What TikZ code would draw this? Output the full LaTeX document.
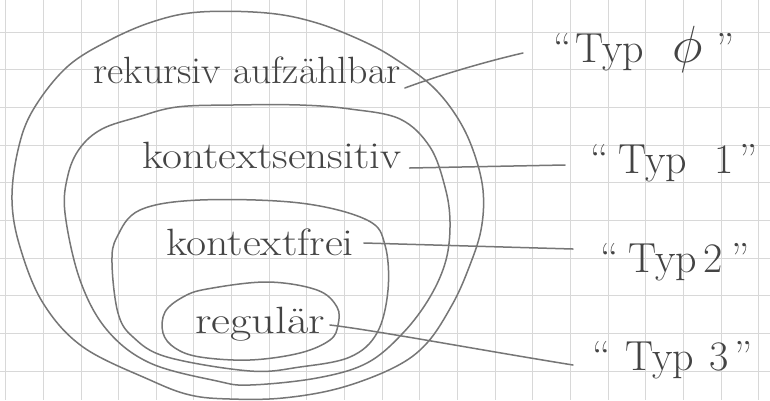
\documentclass[tikz,border=0pt]{standalone}
\usetikzlibrary{calc}
\definecolor{pencil}{HTML}{767676}
\definecolor{ink}{HTML}{444444}
\definecolor{gridc}{HTML}{D8D8D8}
\begin{document}
\begin{tikzpicture}[x=1pt,y=-1pt,
  pencilline/.style={draw=pencil,line width=1.5pt,line cap=round,line join=round},
  setbox/.style={pencilline,smooth cycle,tension=0.6},
  cls/.style={text=ink,font=\fontsize{38}{40}\selectfont,inner sep=1pt,anchor=base},
  typ/.style={text=ink,font=\fontsize{42}{44}\selectfont,inner sep=1pt,anchor=base west},
  gridline/.style={draw=gridc,line width=0.6pt}]
\fill[white] (0,0) rectangle (770,400);
\useasboundingbox (0,0) rectangle (770,400);
% squared paper
\foreach \i in {0,...,20} \draw[gridline] ({5.5+37.65*\i},0) -- ({5.5+37.65*\i},400);
\foreach \j in {1,...,10} \draw[gridline] (0,{-5.65+37.65*\j}) -- (770,{-5.65+37.65*\j});
% nested sets
\draw[setbox] plot coordinates {(200,12) (267,13) (317,23) (367,43) (400,62) (433,87) (457,117) (473,150) (483,190) (481,230) (468,270) (452,305) (427,343) (395,367) (340,388) (283,398) (230,399) (190,395) (150,380) (83,347) (43,303) (20,247) (12,200) (18,150) (33,110) (67,67) (110,40) (155,21)};
\draw[setbox] plot coordinates {(138,117) (177,107) (233,105) (300,105) (350,109) (400,119) (430,147) (445,187) (450,222) (446,260) (430,297) (403,333) (367,363) (317,378) (250,385) (217,381) (150,363) (107,330) (80,280) (65,213) (68,175) (80,148) (102,129)};
\draw[setbox] plot coordinates {(140,210) (200,200) (300,203) (367,220) (385,245) (388,290) (377,333) (350,357) (300,367) (250,371) (167,357) (133,337) (118,313) (112,263) (117,237)};
\draw[setbox] plot coordinates {(207,289) (267,282) (317,290) (337,307) (338,325) (330,340) (300,353) (250,360) (200,357) (175,348) (163,333) (165,312) (183,297)};
% labels
\node[cls] (l0) at (247,83) {\scalebox{1.05}[1]{rekursiv aufzählbar}};
\node[cls] (l1) at (272,168) {\scalebox{1.14}[1]{kontextsensitiv}};
\node[cls] (l2) at (260,255) {\scalebox{1.15}[1]{kontextfrei}};
\node[cls] (l3) at (260,333) {\scalebox{1.22}[1]{regulär}};
\node[typ] (t0) at (552,62) {``\hspace{4pt}Typ\hspace{28pt}\scalebox{2.1}{$\phi$}\hspace{14pt}''};
\node[typ] (t1) at (589,173) {``\hspace{10pt}Typ\hspace{27pt}1\hspace{6pt}''};
\node[typ] (t2) at (599,272) {``\hspace{10pt}Typ\hspace{6pt}2\hspace{9pt}''};
\node[typ] (t3) at (591,370) {``\hspace{15pt}Typ\hspace{15pt}3\hspace{6pt}''};
% connectors
\draw[pencilline] ($(l0.base east)+(3,5)$) .. controls +(35,-13) and +(-35,8) .. ($(t0.base west)+(-29,-9)$);
\draw[pencilline] ($(l1.base east)+(7,0)$) -- ($(t1.base west)+(-24,-8)$);
\draw[pencilline] ($(l2.base east)+(9,-12)$) -- ($(t2.base west)+(-26,-23)$);
\draw[pencilline] ($(l3.base east)+(4,-8)$) .. controls +(43,5) and +(-93,-15) .. ($(t3.base west)+(-18,-5)$);
\end{tikzpicture}
\end{document}
